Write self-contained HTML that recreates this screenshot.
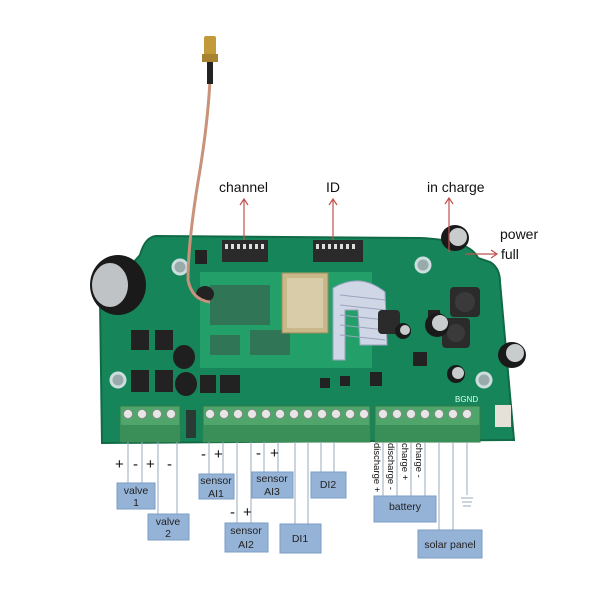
<!DOCTYPE html>
<html><head><meta charset="utf-8"><style>
html,body{margin:0;padding:0;background:#fff}
svg{display:block}
text{font-family:"Liberation Sans",sans-serif}
</style></head><body>
<svg width="600" height="600" viewBox="0 0 600 600" xmlns="http://www.w3.org/2000/svg">
<rect width="600" height="600" fill="#fff"/>
<!-- board -->
<path d="M156,236 L420,238 Q470,240 478,258 L490,262 Q500,268 500,282 L514,440 L102,443 L100,300 L140,255 Q145,237 156,236 Z" fill="#17855a"/>
<path d="M156,236 L420,238 Q470,240 478,258 L490,262 Q500,268 500,282 L514,440 L102,443 L100,300 L140,255 Q145,237 156,236 Z" fill="none" stroke="#0f6a45" stroke-width="2"/>
<!-- mounting holes -->
<g fill="#9aa" stroke="#cdd" stroke-width="3">
<circle cx="180" cy="267" r="7"/><circle cx="298" cy="294" r="6"/><circle cx="423" cy="265" r="7"/>
<circle cx="118" cy="380" r="7"/><circle cx="484" cy="380" r="7"/><circle cx="251" cy="297" r="6"/>
</g>
<!-- module board -->
<rect x="200" y="272" width="172" height="96" fill="#23a06a"/>
<g fill="#3a5a4a" opacity="0.6">
<rect x="210" y="285" width="60" height="40"/><rect x="250" y="330" width="40" height="25"/><rect x="210" y="335" width="30" height="20"/>
</g>
<!-- shield can -->
<rect x="282" y="273" width="46" height="60" fill="#c9b98a" stroke="#9a8a5a"/>
<rect x="287" y="278" width="36" height="50" fill="#d8cda8"/>
<!-- ribbon -->
<path d="M333,288 Q360,272 385,292 L387,345 L360,345 L358,310 L345,310 L345,360 L333,360 Z" fill="#cfd6e6" stroke="#9aa3bd"/>
<g stroke="#9aa3bd" stroke-width="1"><line x1="340" y1="295" x2="385" y2="300"/><line x1="340" y1="305" x2="385" y2="310"/><line x1="340" y1="315" x2="385" y2="320"/><line x1="340" y1="325" x2="385" y2="330"/><line x1="340" y1="335" x2="385" y2="340"/></g>
<!-- DIP switches -->
<rect x="222" y="240" width="46" height="22" fill="#2a2a2a"/>
<rect x="313" y="240" width="50" height="22" fill="#2a2a2a"/>
<g fill="#ddd"><rect x="225" y="244" width="3" height="5"/><rect x="231" y="244" width="3" height="5"/><rect x="237" y="244" width="3" height="5"/><rect x="243" y="244" width="3" height="5"/><rect x="249" y="244" width="3" height="5"/><rect x="255" y="244" width="3" height="5"/><rect x="261" y="244" width="3" height="5"/>
<rect x="316" y="244" width="3" height="5"/><rect x="322" y="244" width="3" height="5"/><rect x="328" y="244" width="3" height="5"/><rect x="334" y="244" width="3" height="5"/><rect x="340" y="244" width="3" height="5"/><rect x="346" y="244" width="3" height="5"/><rect x="352" y="244" width="3" height="5"/></g>
<!-- ICs -->
<g fill="#222">
<rect x="131" y="330" width="18" height="20"/><rect x="155" y="330" width="18" height="20"/>
<rect x="131" y="370" width="18" height="22"/><rect x="155" y="370" width="18" height="22"/>
<rect x="200" y="375" width="16" height="18"/><rect x="220" y="375" width="20" height="18"/>
<rect x="195" y="250" width="12" height="14"/><rect x="428" y="310" width="12" height="12"/>
<rect x="413" y="352" width="14" height="14"/><rect x="370" y="372" width="12" height="14"/>
<rect x="320" y="378" width="10" height="10"/><rect x="340" y="376" width="10" height="10"/>
</g>
<!-- inductors -->
<rect x="450" y="287" width="30" height="30" rx="4" fill="#2b2b2b"/><circle cx="465" cy="302" r="10" fill="#3a3a3a"/>
<rect x="442" y="318" width="28" height="30" rx="4" fill="#2b2b2b"/><circle cx="456" cy="333" r="9" fill="#3a3a3a"/>
<rect x="378" y="310" width="22" height="24" rx="4" fill="#2b2b2b"/>
<!-- capacitors -->
<g>
<ellipse cx="118" cy="285" rx="28" ry="30" fill="#1a1a1a"/><ellipse cx="110" cy="285" rx="18" ry="22" fill="#bfc3c5"/>
<ellipse cx="184" cy="357" rx="11" ry="12" fill="#1f1f1f"/>
<ellipse cx="186" cy="384" rx="11" ry="12" fill="#1f1f1f"/>
<ellipse cx="455" cy="238" rx="14" ry="13" fill="#1a1a1a"/><ellipse cx="458" cy="237" rx="9" ry="9" fill="#c8cccc"/>
<ellipse cx="437" cy="325" rx="12" ry="12" fill="#1a1a1a"/><ellipse cx="440" cy="323" rx="8" ry="8" fill="#c8cccc"/>
<ellipse cx="512" cy="355" rx="14" ry="13" fill="#1a1a1a"/><ellipse cx="515" cy="353" rx="9" ry="9" fill="#c8cccc"/>
<ellipse cx="456" cy="374" rx="9" ry="9" fill="#1a1a1a"/><ellipse cx="458" cy="373" rx="6" ry="6" fill="#c8cccc"/>
<ellipse cx="403" cy="331" rx="8" ry="8" fill="#1a1a1a"/><ellipse cx="405" cy="330" rx="5" ry="5" fill="#c8cccc"/>
<ellipse cx="205" cy="294" rx="9" ry="8" fill="#222"/>
</g>
<!-- fuse -->
<rect x="495" y="405" width="16" height="22" fill="#e5e0d8"/>
<text x="455" y="402" font-size="8" fill="#dfe">BGND</text>
<!-- terminal blocks -->
<g fill="#4fa56a" stroke="#2f7a48">
<rect x="120" y="406" width="60" height="36"/>
<rect x="203" y="406" width="167" height="36"/>
<rect x="375" y="406" width="105" height="36"/>
</g>
<g fill="#3a8f58"><rect x="120" y="425" width="60" height="17"/><rect x="203" y="425" width="167" height="17"/><rect x="375" y="425" width="105" height="17"/></g>
<g fill="#e6e6e6" stroke="#888" stroke-width="0.8">
<circle cx="128" cy="414" r="4.5"/><circle cx="142" cy="414" r="4.5"/><circle cx="157" cy="414" r="4.5"/><circle cx="171" cy="414" r="4.5"/>
<circle cx="210" cy="414" r="4.5"/><circle cx="224" cy="414" r="4.5"/><circle cx="238" cy="414" r="4.5"/><circle cx="252" cy="414" r="4.5"/><circle cx="266" cy="414" r="4.5"/><circle cx="280" cy="414" r="4.5"/><circle cx="294" cy="414" r="4.5"/><circle cx="308" cy="414" r="4.5"/><circle cx="322" cy="414" r="4.5"/><circle cx="336" cy="414" r="4.5"/><circle cx="350" cy="414" r="4.5"/><circle cx="364" cy="414" r="4.5"/>
<circle cx="383" cy="414" r="4.5"/><circle cx="397" cy="414" r="4.5"/><circle cx="411" cy="414" r="4.5"/><circle cx="425" cy="414" r="4.5"/><circle cx="439" cy="414" r="4.5"/><circle cx="453" cy="414" r="4.5"/><circle cx="467" cy="414" r="4.5"/>
</g>
<rect x="186" y="410" width="10" height="28" fill="#2a3a35"/>
<!-- antenna -->
<path d="M210,80 Q208,120 200,170 Q188,240 188,280 Q192,300 210,302" fill="none" stroke="#c9927a" stroke-width="3"/>
<rect x="207" y="62" width="6" height="22" fill="#222"/>
<rect x="204" y="36" width="12" height="24" rx="2" fill="#c29a3a"/>
<rect x="202" y="54" width="16" height="8" fill="#a88230"/>
<!-- top labels -->
<text x="219" y="192" font-size="14" fill="#111">channel</text>
<text x="326" y="192" font-size="14" fill="#111">ID</text>
<text x="427" y="192" font-size="14" fill="#111">in charge</text>
<text x="500" y="239" font-size="14" fill="#111">power</text>
<text x="501" y="259" font-size="14" fill="#111">full</text>
<g stroke="#c0504d" stroke-width="1.2" fill="none">
<line x1="244" y1="200" x2="244" y2="240"/><path d="M240,205 L244,199 L248,205"/>
<line x1="333" y1="200" x2="333" y2="240"/><path d="M329,205 L333,199 L337,205"/>
<line x1="449" y1="199" x2="449" y2="252"/><path d="M445,204 L449,198 L453,204"/>
<line x1="465" y1="254" x2="497" y2="254"/><path d="M491,250 L497,254 L491,258"/>
</g>
<!-- connector lines -->
<g stroke="#9ab" stroke-width="1">
<line x1="128" y1="442" x2="128" y2="483"/><line x1="142" y1="442" x2="142" y2="483"/>
<line x1="158" y1="442" x2="158" y2="514"/><line x1="177" y1="442" x2="177" y2="514"/>
<line x1="209" y1="442" x2="209" y2="474"/><line x1="223" y1="442" x2="223" y2="474"/>
<line x1="237" y1="442" x2="237" y2="523"/><line x1="251" y1="442" x2="251" y2="523"/>
<line x1="264" y1="442" x2="264" y2="472"/><line x1="278" y1="442" x2="278" y2="472"/>
<line x1="295" y1="442" x2="295" y2="524"/><line x1="308" y1="442" x2="308" y2="524"/>
<line x1="321" y1="442" x2="321" y2="472"/><line x1="334" y1="442" x2="334" y2="472"/>
<line x1="383" y1="442" x2="383" y2="496"/><line x1="397" y1="442" x2="397" y2="496"/>
<line x1="411" y1="442" x2="411" y2="496"/><line x1="425" y1="442" x2="425" y2="496"/>
<line x1="439" y1="442" x2="439" y2="530"/><line x1="453" y1="442" x2="453" y2="530"/>
<line x1="467" y1="442" x2="467" y2="495"/>
<line x1="461" y1="498" x2="473" y2="498"/><line x1="462" y1="502" x2="472" y2="502"/><line x1="463" y1="506" x2="471" y2="506"/>
</g>
<!-- plus/minus -->
<g font-size="15" fill="#111">
<text x="115" y="469">+</text><text x="133" y="469">-</text><text x="146" y="469">+</text><text x="167" y="469">-</text>
<text x="201" y="459">-</text><text x="214" y="459">+</text>
<text x="256" y="458">-</text><text x="270" y="458">+</text>
<text x="230" y="517">-</text><text x="243" y="517">+</text>
</g>
<!-- vertical battery labels -->
<g font-size="9.5" fill="#111" font-family="Liberation Serif">
<text transform="translate(374,443) rotate(90)">discharge +</text>
<text transform="translate(388,443) rotate(90)">discharge -</text>
<text transform="translate(402,443) rotate(90)">charge +</text>
<text transform="translate(416,443) rotate(90)">charge -</text>
</g>
<!-- boxes -->
<g fill="#95b3d7" stroke="#7a9cc6">
<rect x="117" y="483" width="38" height="26"/>
<rect x="148" y="514" width="41" height="26"/>
<rect x="199" y="474" width="35" height="25"/>
<rect x="252" y="472" width="41" height="26"/>
<rect x="225" y="523" width="43" height="29"/>
<rect x="311" y="472" width="35" height="26"/>
<rect x="280" y="524" width="41" height="29"/>
<rect x="374" y="496" width="62" height="26"/>
<rect x="418" y="530" width="64" height="28"/>
</g>
<g font-size="10.5" fill="#222" text-anchor="middle">
<text x="136" y="494">valve</text><text x="136" y="506">1</text>
<text x="168" y="525">valve</text><text x="168" y="537">2</text>
<text x="216" y="484">sensor</text><text x="216" y="497">AI1</text>
<text x="272" y="482">sensor</text><text x="272" y="495">AI3</text>
<text x="246" y="534">sensor</text><text x="246" y="548">AI2</text>
<text x="328" y="488">DI2</text>
<text x="300" y="542">DI1</text>
<text x="405" y="510">battery</text>
<text x="450" y="548">solar panel</text>
</g>
</svg>
</body></html>
